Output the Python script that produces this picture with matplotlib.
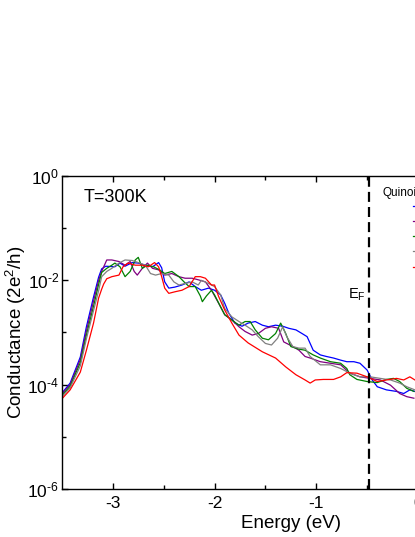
import numpy as np
import matplotlib
matplotlib.use("Agg")
import matplotlib.pyplot as plt

plt.rcParams['font.family'] = ['Liberation Sans', 'DejaVu Sans']
plt.rcParams['mathtext.fontset'] = 'custom'
plt.rcParams['mathtext.rm'] = 'Liberation Sans'
plt.rcParams['mathtext.it'] = 'Liberation Sans:italic'

# energy (eV) and log10 of conductance (2e^2/h)
blue_e = [-3.50, -3.42, -3.32, -3.26, -3.19, -3.14, -3.11, -3.07, -2.98, -2.93, -2.88, -2.81, -2.75,
          -2.68, -2.61, -2.55, -2.52, -2.49, -2.45, -2.39, -2.32, -2.25, -2.19, -2.13, -2.06, -2.00,
          -1.94, -1.90, -1.86, -1.80, -1.73, -1.67, -1.60, -1.53, -1.47, -1.40, -1.33, -1.27, -1.20,
          -1.14, -1.09, -1.03, -0.96, -0.90, -0.83, -0.76, -0.70, -0.63, -0.57, -0.50, -0.45, -0.40,
          -0.31, -0.21, -0.14, -0.08, -0.03]
blue_log = [-4.16, -3.97, -3.47, -2.89, -2.32, -1.94, -1.78, -1.73, -1.74, -1.67, -1.73, -1.66, -1.67,
            -1.71, -1.74, -1.66, -1.76, -2.03, -2.15, -2.13, -2.09, -2.03, -2.12, -2.19, -2.15, -2.19,
            -2.28, -2.44, -2.63, -2.82, -2.88, -2.82, -2.79, -2.86, -2.89, -2.86, -2.88, -2.92, -2.95,
            -3.02, -3.08, -3.34, -3.43, -3.46, -3.49, -3.53, -3.56, -3.56, -3.59, -3.72, -3.91, -4.04,
            -4.10, -4.13, -4.17, -4.10, -4.13]

purple_e = [-3.50, -3.42, -3.32, -3.26, -3.19, -3.14, -3.11, -3.06, -3.01, -2.94, -2.88, -2.83, -2.79,
            -2.76, -2.71, -2.66, -2.61, -2.55, -2.49, -2.42, -2.35, -2.29, -2.22, -2.16, -2.09, -2.03,
            -1.96, -1.90, -1.83, -1.76, -1.70, -1.63, -1.57, -1.50, -1.44, -1.37, -1.32, -1.23, -1.17,
            -1.11, -1.06, -0.96, -0.86, -0.76, -0.67, -0.57, -0.47, -0.37, -0.27, -0.18, -0.11, -0.04]
purple_log = [-4.18, -4.00, -3.52, -2.97, -2.40, -2.00, -1.83, -1.61, -1.61, -1.64, -1.71, -1.64, -1.83,
              -1.90, -1.77, -1.67, -1.77, -1.80, -1.90, -1.87, -1.93, -1.96, -1.96, -1.99, -2.03, -2.19,
              -2.44, -2.66, -2.76, -2.89, -2.98, -3.05, -3.02, -2.92, -2.89, -2.92, -3.18, -3.27, -3.34,
              -3.46, -3.49, -3.56, -3.59, -3.62, -3.78, -3.85, -3.88, -3.91, -4.01, -4.17, -4.23, -4.26]

green_e = [-3.50, -3.42, -3.32, -3.26, -3.19, -3.14, -3.11, -3.06, -3.01, -2.98, -2.93, -2.88, -2.83,
           -2.78, -2.75, -2.71, -2.66, -2.60, -2.54, -2.49, -2.42, -2.35, -2.30, -2.25, -2.19, -2.14,
           -2.12, -2.08, -2.03, -2.00, -1.94, -1.90, -1.83, -1.76, -1.70, -1.65, -1.60, -1.53, -1.47,
           -1.40, -1.35, -1.30, -1.25, -1.17, -1.11, -1.03, -0.96, -0.86, -0.76, -0.70, -0.67, -0.60,
           -0.50, -0.40, -0.31, -0.24, -0.18, -0.11, -0.04]
green_log = [-4.21, -4.03, -3.58, -3.05, -2.50, -2.08, -1.85, -1.77, -1.71, -1.67, -1.74, -1.93, -1.83,
             -1.61, -1.56, -1.77, -1.71, -1.74, -1.80, -1.87, -1.83, -1.93, -2.03, -2.12, -2.12, -2.30,
             -2.41, -2.30, -2.19, -2.28, -2.51, -2.66, -2.76, -2.86, -2.79, -2.79, -2.95, -3.11, -3.14,
             -3.02, -2.82, -3.02, -3.27, -3.32, -3.34, -3.43, -3.49, -3.56, -3.59, -3.69, -3.81, -3.90,
             -3.94, -3.96, -3.90, -3.88, -3.94, -4.07, -4.13]

gray_e = [-3.50, -3.42, -3.32, -3.26, -3.19, -3.14, -3.11, -3.06, -3.01, -2.94, -2.88, -2.81, -2.75,
          -2.68, -2.63, -2.58, -2.52, -2.45, -2.40, -2.35, -2.29, -2.22, -2.16, -2.13, -2.06, -2.00,
          -1.94, -1.90, -1.83, -1.76, -1.70, -1.63, -1.57, -1.50, -1.44, -1.38, -1.33, -1.29, -1.23,
          -1.17, -1.11, -1.06, -0.96, -0.86, -0.76, -0.67, -0.57, -0.47, -0.37, -0.27, -0.18, -0.11,
          -0.03]
gray_log = [-4.23, -4.06, -3.64, -3.12, -2.58, -2.20, -1.93, -1.83, -1.77, -1.67, -1.61, -1.62, -1.66,
            -1.71, -1.87, -1.90, -1.87, -1.90, -2.03, -2.09, -2.06, -2.03, -2.09, -2.00, -2.06, -2.12,
            -2.28, -2.54, -2.70, -2.79, -2.86, -2.95, -3.08, -3.21, -3.24, -3.11, -2.89, -3.08, -3.27,
            -3.30, -3.30, -3.46, -3.62, -3.62, -3.69, -3.78, -3.85, -3.85, -3.88, -3.91, -3.97, -4.04,
            -4.10]

red_e = [-3.50, -3.42, -3.32, -3.26, -3.19, -3.14, -3.11, -3.09, -3.06, -3.01, -2.94, -2.90, -2.85,
         -2.78, -2.71, -2.65, -2.59, -2.55, -2.52, -2.49, -2.45, -2.39, -2.32, -2.25, -2.19, -2.14,
         -2.09, -2.03, -2.00, -1.96, -1.90, -1.83, -1.76, -1.67, -1.53, -1.40, -1.30, -1.20, -1.11,
         -1.06, -1.01, -0.93, -0.83, -0.76, -0.70, -0.60, -0.50, -0.40, -0.31, -0.21, -0.14, -0.08,
         -0.03]
red_log = [-4.27, -4.10, -3.76, -3.34, -2.82, -2.34, -2.17, -2.07, -1.97, -1.93, -1.90, -1.74, -1.67,
           -1.71, -1.71, -1.74, -1.66, -1.74, -1.93, -2.15, -2.25, -2.22, -2.19, -2.12, -1.93, -1.93,
           -1.96, -2.09, -2.09, -2.31, -2.57, -2.82, -3.05, -3.20, -3.37, -3.49, -3.66, -3.81, -3.91,
           -3.97, -3.91, -3.90, -3.90, -3.85, -3.77, -3.78, -3.85, -3.94, -3.91, -3.88, -3.91, -3.85,
           -3.91]

series = [
    (blue_e, blue_log, '#0000ff', '1'),
    (purple_e, purple_log, '#800080', '2'),
    (green_e, green_log, '#008000', '3'),
    (gray_e, gray_log, '#808080', '4'),
    (red_e, red_log, '#ff0000', '5'),
]

y_decades = [0, -2, -4, -6]
fermi_energy = -0.48

fig = plt.figure(figsize=(4.15, 5.37), dpi=100)
# the original panel is cut off at its right side
ax = fig.add_axes([0.1494, 0.0894, 1.1028, 0.5829])

for e, lg, color, label in series:
    ax.plot(e, 10 ** np.array(lg), color=color, lw=0.9, label=label)

ax.axvline(fermi_energy, color='black', lw=1.6, dashes=(4.5, 2.3))

ax.set_yscale('log')
ax.set_xlim(-3.5, 1.0)
ax.set_ylim(1e-6, 1e0)
ax.set_xticks([-3, -2, -1, 0])
ax.set_xticks([-2.5, -1.5, -0.5, 0.5], minor=True)
ax.set_xticklabels(['-3', '-2', '-1', '0'])
ax.set_yticks([10.0 ** d for d in y_decades])
ax.set_yticklabels([r'$\mathregular{10^{\text{%s}}}$' % d for d in y_decades])
ax.set_yticks([1e-1, 1e-3, 1e-5], minor=True)
ax.yaxis.set_minor_formatter(matplotlib.ticker.NullFormatter())
ax.tick_params(which='both', direction='in', top=True, right=True, width=1.0)
ax.tick_params(which='major', length=4.5)
ax.tick_params(which='minor', length=3)
ax.tick_params(axis='x', which='major', labelsize=12.5, pad=5)
ax.tick_params(axis='y', which='major', labelsize=12.5, pad=2)
for s in ax.spines.values():
    s.set_linewidth(1.0)

ax.set_xlabel('Energy (eV)', fontsize=13.5, labelpad=3)
ax.set_ylabel(r'Conductance (2e$\mathregular{^2}$/h)', fontsize=13.5)
ax.yaxis.set_label_coords(-0.074, 0.5)

ax.text(0.047, 0.93, 'T=300K', transform=ax.transAxes, fontsize=13, va='center')
ax.text(-0.69, 10 ** -2.28, r'$\mathregular{E_F}$', fontsize=10.5, va='center')

ax.text(-0.35, 10 ** -0.33, 'Quinoid', fontsize=8.5, va='center')
ax.legend(loc='upper left', bbox_to_anchor=(-0.05, 10 ** -0.48), bbox_transform=ax.transData,
          frameon=False, fontsize=8.5, handlelength=1.65, labelspacing=0.27,
          borderaxespad=0, borderpad=0)

fig.savefig('out.png', dpi=100)
